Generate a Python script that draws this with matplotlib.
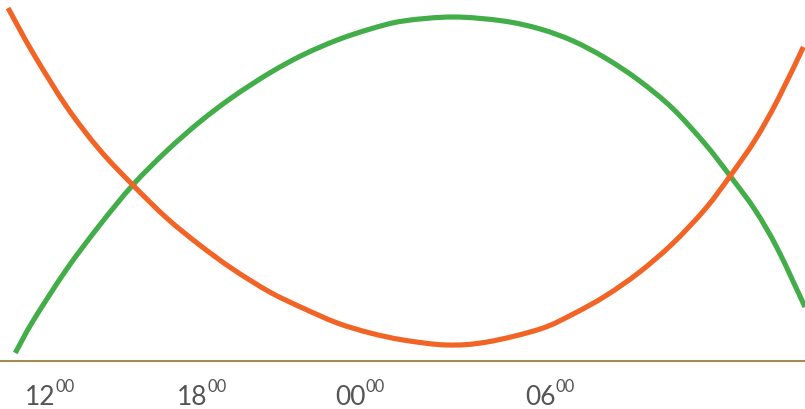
import matplotlib
matplotlib.use("Agg")
import matplotlib.pyplot as plt
from matplotlib.path import Path
from matplotlib.patches import PathPatch

# x: position across the day (0-100 % of width), y: altitude (degrees)
orange_x = [1.0, 4.1, 8.3, 12.4, 16.5, 20.7, 24.8, 28.9, 33.5, 37.6, 41.9, 46.0, 50.1,
            55.5, 60.5, 67.1, 71.2, 75.2, 79.3, 83.5, 87.6, 90.7, 93.8, 96.6, 99.8]
orange_y = [88.25, 77.0, 63.5, 52.75, 44.0, 35.75, 29.0, 23.0, 17.25, 13.25, 9.5, 7.0, 5.25,
            4.0, 4.75, 8.0, 11.75, 16.25, 22.0, 29.25, 38.0, 46.25, 55.25, 65.25, 78.5]

green_x = [1.9, 4.1, 8.3, 12.4, 16.5, 20.7, 24.8, 28.9, 33.5, 37.6, 41.9, 46.0, 50.1,
           56.3, 62.5, 67.1, 71.2, 75.2, 79.3, 83.5, 87.6, 90.7, 93.8, 96.6, 100.0]
green_y = [2.0, 10.0, 23.0, 34.0, 44.0, 52.5, 59.75, 66.0, 72.0, 76.5, 80.25, 83.0, 85.0,
           86.0, 85.0, 83.0, 80.0, 75.75, 70.25, 63.25, 54.25, 46.25, 37.75, 28.0, 13.5]

tick_pos = [3.1, 22.0, 41.6, 65.2]
tick_hours = ["12", "18", "00", "06"]
tick_minutes = ["00", "00", "00", "00"]


def smooth_path(xs, ys):
    """Catmull-Rom curve through the data points, as cubic Bezier segments."""
    n = len(xs)
    verts = [(xs[0], ys[0])]
    codes = [Path.MOVETO]
    for i in range(n - 1):
        i0 = max(i - 1, 0)
        i3 = min(i + 2, n - 1)
        c1 = (xs[i] + (xs[i + 1] - xs[i0]) / 6.0, ys[i] + (ys[i + 1] - ys[i0]) / 6.0)
        c2 = (xs[i + 1] - (xs[i3] - xs[i]) / 6.0, ys[i + 1] - (ys[i3] - ys[i]) / 6.0)
        verts += [c1, c2, (xs[i + 1], ys[i + 1])]
        codes += [Path.CURVE4] * 3
    return Path(verts, codes)


fig = plt.figure(figsize=(8.05, 4.09), dpi=100)
ax = fig.add_axes([0, 0, 1, 1])
ax.set_xlim(0, 100)
ax.set_ylim(-12, 90.25)
ax.axis("off")

ax.axhline(0, color="#a08c52", lw=1.5, zorder=1)
ax.add_patch(PathPatch(smooth_path(green_x, green_y), fill=False, edgecolor="#43ad4a",
                       lw=3.7, capstyle="butt", joinstyle="round", zorder=2))
ax.add_patch(PathPatch(smooth_path(orange_x, orange_y), fill=False, edgecolor="#f26426",
                       lw=3.7, capstyle="butt", joinstyle="round", zorder=3))

labels = []
for p, h in zip(tick_pos, tick_hours):
    t = ax.text(p, -11, h, ha="left", va="baseline", fontsize=19, color="#555555",
                family="Lato", fontweight="normal")
    labels.append(t)

fig.canvas.draw()
renderer = fig.canvas.get_renderer()
inv = ax.transData.inverted()
for t, m in zip(labels, tick_minutes):
    bb = t.get_window_extent(renderer)
    xr = inv.transform((bb.x1, 0))[0]
    ax.text(xr, -7.75, m, ha="left", va="baseline", fontsize=12, color="#555555",
            family="Lato", fontweight="normal")

fig.savefig("out.png", dpi=100)
